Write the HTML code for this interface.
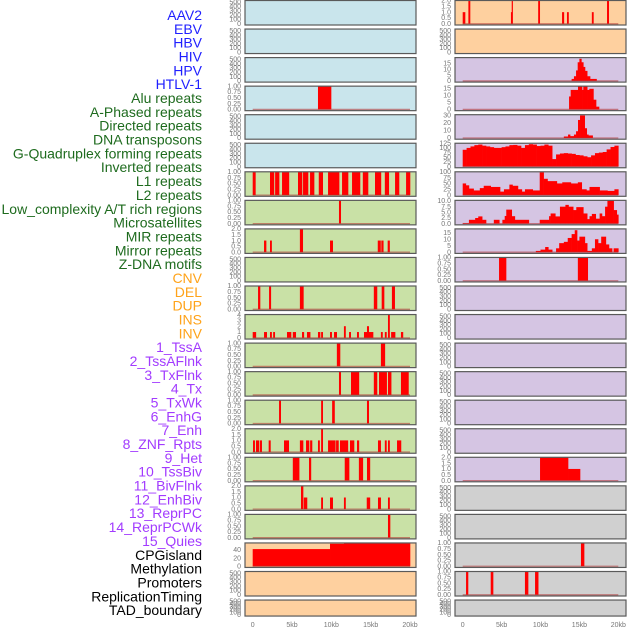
<!DOCTYPE html>
<html><head><meta charset="utf-8"><style>
html,body{margin:0;padding:0;background:#fff;}
svg{display:block;font-family:"Liberation Sans",sans-serif;}
</style></head><body>
<svg id="chart" width="630" height="630" viewBox="0 0 630 630"></svg>
<script>
// ---- track labels ----
const trackLabels=["AAV2","EBV","HBV","HIV","HPV","HTLV-1","Alu repeats","A-Phased repeats","Directed repeats","DNA transposons","G-Quadruplex forming repeats","Inverted repeats","L1 repeats","L2 repeats","Low_complexity A/T rich regions","Microsatellites","MIR repeats","Mirror repeats","Z-DNA motifs","CNV","DEL","DUP","INS","INV","1_TssA","2_TssAFlnk","3_TxFlnk","4_Tx","5_TxWk","6_EnhG","7_Enh","8_ZNF_Rpts","9_Het","10_TssBiv","11_BivFlnk","12_EnhBiv","13_ReprPC","14_ReprPCWk","15_Quies","CPGisland","Methylation","Promoters","ReplicationTiming","TAD_boundary"];
const labelGroups=["v","v","v","v","v","v","r","r","r","r","r","r","r","r","r","r","r","r","r","s","s","s","s","s","c","c","c","c","c","c","c","c","c","c","c","c","c","c","c","o","o","o","o","o"];
const xTickValues=[0,5,10,15,20];
const xTickLabels=["0","5kb","10kb","15kb","20kb"];

// ---- left column series: [startKb, endKb, value] ----
const L0=[],L1=[],L2=[],L4=[],L5=[],L9=[],L20=[],L21=[];
const L3=[[8.3,9.96,1]];
const L6=[[0,0.34,1],[2.2,2.7,1],[2.85,3.35,1],[3.73,4.6,1],[5.76,6.27,1],[6.4,7.03,1],[7.29,7.8,1],[8.4,8.9,1],[9.58,10.98,1],[11.36,12.12,1],[12.63,13.64,1],[14.0,14.66,1],[15.55,16.3,1],[16.8,17.3,1],[18.1,18.6,1],[19.5,20,1]];
const L7=[[10.97,11.19,1]];
const L8=[[1.44,1.7,1],[2.2,2.4,1],[6.0,6.36,2],[9.83,10.17,1],[15.9,16.25,1],[16.35,16.6,1],[17.16,17.4,1]];
const L10=[[0.68,0.93,1],[2.08,2.3,1],[6.0,6.44,1],[15.4,15.8,1],[16.4,16.7,1],[17.7,18.05,1]];
const L11=[[0,0.4,1],[1.44,1.78,1],[2.2,2.4,1],[2.6,2.8,1],[4.36,4.87,1],[5.1,5.47,1],[6.27,6.5,1],[6.9,7.3,1],[8.3,8.56,1],[8.7,8.9,1],[9.83,10.04,1],[10.34,10.68,1],[11.6,11.8,2],[12.25,12.46,1],[13.26,13.47,1],[14.15,14.53,1],[14.53,14.75,2],[14.75,15.3,1],[16.3,16.5,1],[16.8,17.0,1],[17.2,17.4,4],[17.6,18.1,1],[18.85,19.1,1]];
const L12=[[10.7,11.1,1],[16.3,16.8,1]];
const L13=[[10.97,11.19,1],[12.5,13.5,1],[15.4,15.8,1],[16.06,17.03,1],[17.2,17.6,1],[18.85,19.8,1]];
const L14=[[3.35,3.56,1],[8.7,8.9,1],[10.1,10.4,1],[14.53,14.75,1]];
const L15=[[0.04,0.25,1],[0.42,0.8,1],[0.93,1.14,1],[2.03,2.25,1],[3.98,4.58,1],[6.0,6.4,1],[6.78,7.16,1],[7.3,7.54,1],[8.3,8.5,1],[8.7,8.9,2],[9.58,10.5,1],[10.6,10.9,1],[11.1,12.1,1],[12.37,12.88,1],[13.26,13.5,1],[15.93,16.27,1],[16.8,17.0,1],[17.2,17.4,1],[18.35,18.85,1]];
const L16=[[5.1,5.9,1],[7.16,7.4,1],[11.7,12.25,1],[13.5,14.0,1],[14.53,14.9,1]];
const L17=[[6.14,6.4,2],[6.5,6.9,1],[8.7,8.9,1],[9.83,10.17,1],[11.6,11.8,1],[14.5,14.9,1],[15.93,16.27,1],[17.2,17.4,1]];
const L18=[[17.2,17.46,1]];
const L19=[[0,9.83,42],[9.83,11.6,55],[11.6,15.1,57],[15.1,15.4,56],[15.4,20,57]];

// ---- right column series ----
const R1=[],R10=[],R11=[],R12=[],R13=[],R14=[],R15=[],R17=[],R18=[],R21=[];
const R0=[[0,0.3,1],[0.73,0.94,2],[6.2,6.3,1],[6.3,6.4,2],[9.7,9.9,2],[12.77,13.0,1],[13.4,13.6,1],[16.6,16.8,1],[18.55,18.77,2]];
const R2=[[14.0,14.3,1.7],[14.3,14.57,4],[14.57,14.78,9],[14.78,15.0,16],[15.0,15.25,19],[15.25,15.5,16],[15.5,15.72,12],[15.72,16.0,8.6],[16.0,16.37,4],[16.37,17.2,1.7]];
const R3=[[13.67,13.88,9.3],[13.88,14.82,14],[14.82,15.34,16.7],[15.34,15.5,14],[15.5,16.0,16.7],[16.0,16.28,14],[16.28,16.8,14.8],[16.8,17.14,7],[17.14,17.52,2]];
const R4=[[13.0,13.54,2],[13.54,13.8,4.6],[13.8,14.3,2.5],[14.3,14.57,4.6],[14.57,14.82,9],[14.82,15.08,24],[15.08,15.68,30],[15.68,15.94,13],[15.94,16.15,4.6],[16.15,16.7,3.4]];
const R5vals=[90,100,108,115,118,112,108,104,100,100,104,108,115,116,112,100,115,120,118,110,112,118,112,40,65,70,72,70,68,62,60,55,50,60,72,75,78,92,105,112];
const R6=[[0,0.4,50],[0.4,0.8,42],[0.8,1.4,28],[1.4,2.2,20],[2.2,2.7,30],[2.7,3.6,40],[3.6,4.8,35],[4.8,5.3,15],[5.3,6.0,25],[6.0,6.4,45],[6.4,7.1,40],[7.1,7.6,25],[7.6,8.0,15],[8.0,9.0,25],[9.0,9.9,20],[9.9,10.4,98],[10.4,10.9,70],[10.9,12.1,60],[12.1,12.8,50],[12.8,13.9,55],[13.9,14.8,50],[14.8,15.3,55],[15.3,15.9,25],[15.9,16.3,20],[16.3,17.6,35],[17.6,18.6,20],[18.6,19.5,18],[19.5,20,25]];
const R7=[[0,0.8,0.3],[0.8,1.6,1.7],[1.6,2.0,2.5],[2.0,2.5,3.2],[2.5,3.0,1.7],[4.0,4.7,1.7],[5.1,5.4,1.7],[5.4,5.6,3.4],[5.6,6.3,6.2],[6.3,6.7,3.3],[6.7,8.5,1.7],[9.9,11.1,1.7],[11.1,11.3,3.3],[11.3,11.9,4.5],[11.9,12.5,3.2],[12.5,13.2,7.5],[13.2,13.6,8.3],[13.6,14.2,7.5],[14.2,14.6,6],[14.6,15.5,7.3],[15.5,16.0,4.5],[16.0,16.3,2],[16.3,16.6,3.3],[16.6,17.1,4.3],[17.1,17.6,2.2],[17.6,17.9,4.5],[17.9,18.3,3.3],[18.3,18.6,7.5],[18.6,19.4,10.2],[19.4,19.8,6],[19.8,20,4]];
const R8=[[9.4,10.0,1],[10.0,10.6,2],[10.6,11.0,4],[11.0,11.5,2],[12.0,12.4,3],[12.4,13.0,7],[13.0,13.5,8],[13.5,14.0,11],[14.0,14.4,14],[14.4,14.7,17],[14.7,15.0,9],[15.0,15.7,12],[15.7,16.0,7],[16.0,16.6,1],[16.6,17.0,3],[17.0,17.4,10],[17.4,17.8,7],[17.8,18.4,12],[18.4,18.8,6],[18.8,19.2,3],[19.4,20,3]];
const R9=[[4.67,5.57,1],[14.8,16.07,1]];
const R16=[[9.94,13.54,2],[13.54,15.08,1]];
const R19=[[15.2,15.6,1]];
const R20=[[0.43,0.68,1],[3.6,3.9,1],[8.0,8.4,1],[9.3,9.7,1]];

// ---- render ----
const svg=document.getElementById('chart');
const NS='http://www.w3.org/2000/svg';
function mk(tag,attrs,parent){const e=document.createElementNS(NS,tag);for(const k in attrs)e.setAttribute(k,attrs[k]);(parent||svg).appendChild(e);return e;}
const labelColors={v:"#1f1fff",r:"#1e6b1e",s:"#ffa31a",c:"#a23bff",o:"#000"};
trackLabels.forEach((t,i)=>{
  const e=mk('text',{x:202,y:20+13.84*i,'text-anchor':'end','font-size':14,fill:labelColors[labelGroups[i]]});
  e.textContent=t;
  
  
});
const BG={b:"#c9e5ec",g:"#c9e1a6",o:"#fed09f",p:"#d5c5e3",k:"#d0d0d0"};
const R5=R5vals.map((v,i)=>[i*0.5,i*0.5+0.5,v]);
const EMPTY={max:540,ticks:[0,100,200,300,400,500],fmt:v=>String(v)};
const BIN={max:1,ticks:[0,0.25,0.5,0.75,1],fmt:v=>v.toFixed(2)};
const TWO={max:2,ticks:[0,0.5,1,1.5,2],fmt:v=>v.toFixed(1)};
const left=[
 [L0,'b',EMPTY],[L1,'b',EMPTY],[L2,'b',EMPTY],[L3,'b',BIN],[L4,'b',EMPTY],[L5,'b',EMPTY],
 [L6,'g',BIN],[L7,'g',BIN],[L8,'g',TWO],[L9,'g',EMPTY],[L10,'g',BIN],
 [L11,'g',{max:4,ticks:[0,1,2,3,4],fmt:v=>String(v)}],[L12,'g',BIN],[L13,'g',BIN],[L14,'g',BIN],[L15,'g',TWO],[L16,'g',BIN],[L17,'g',TWO],[L18,'g',BIN],
 [L19,'o',{max:57,ticks:[0,20,40],fmt:v=>String(v)}],[L20,'o',EMPTY],[L21,'o',EMPTY]];
const right=[
 [R0,'o',TWO],[R1,'o',EMPTY],
 [R2,'p',{max:20,ticks:[0,5,10,15],fmt:v=>String(v)}],
 [R3,'p',{max:16.7,ticks:[0,5,10,15],fmt:v=>String(v)}],
 [R4,'p',{max:31,ticks:[0,10,20,30],fmt:v=>String(v)}],
 [R5,'p',{max:125,ticks:[0,25,50,75,100,125],fmt:v=>String(v)}],
 [R6,'p',{max:100,ticks:[0,25,50,75,100],fmt:v=>String(v)}],
 [R7,'p',{max:10.3,ticks:[0,2.5,5,7.5,10],fmt:v=>v.toFixed(1)}],
 [R8,'p',{max:18,ticks:[0,5,10,15],fmt:v=>String(v)}],
 [R9,'p',BIN],[R10,'p',EMPTY],[R11,'p',EMPTY],[R12,'p',EMPTY],[R13,'p',EMPTY],[R14,'p',EMPTY],[R15,'p',EMPTY],
 [R16,'p',TWO],[R17,'k',EMPTY],[R18,'k',EMPTY],[R19,'k',BIN],[R20,'k',BIN],[R21,'k',EMPTY]];

function drawCol(rows,px0,px1,x0,kbScale,colName){
  rows.forEach((r,k)=>{
    const [data,bg,ax]=r;
    const top=0.5+28.55*k, h=(k===21?16:24.5), bot=top+h;
    const g=mk('g',{});
    
    
    mk('rect',{x:px0,y:top,width:px1-px0,height:h,fill:BG[bg]},g);
    const yz=bot-1.2, ys=(yz-top)/ax.max;
    const Y=v=>yz-v*ys, X=kb=>x0+kb*kbScale;
    data.forEach(d=>{
      const b=mk('rect',{x:X(d[0]),y:Y(Math.min(d[2],ax.max)),width:Math.max(1.2,X(d[1])-X(d[0])+0.3),height:Math.min(d[2],ax.max)*ys,fill:"#ff0000"},g);
      
      
    });
    if(data.length){mk('line',{x1:X(0),x2:X(20),y1:yz,y2:yz,stroke:"#b03030",'stroke-opacity':0.55,'stroke-width':1.3},g);}
    mk('rect',{x:px0,y:top,width:px1-px0,height:h,fill:"none",stroke:"#5a5a5a",'stroke-width':1.2},g);
    ax.ticks.forEach(t=>{
      const tl=mk('text',{x:px0-4,y:Y(t)+2.2,'text-anchor':'end','font-size':7,fill:"#777"},g);
      tl.textContent=ax.fmt(t);
      
      
    });
  });
  xTickValues.forEach((v,i)=>{
    const t=mk('text',{x:x0+v*kbScale,y:627,'text-anchor':'middle','font-size':7,fill:"#777"});
    t.textContent=xTickLabels[i];
    
    
  });
}
drawCol(left,245,416,252.7,7.865,'left');
drawCol(right,455,626,462.7,7.78,'right');
</script>
</body></html>
